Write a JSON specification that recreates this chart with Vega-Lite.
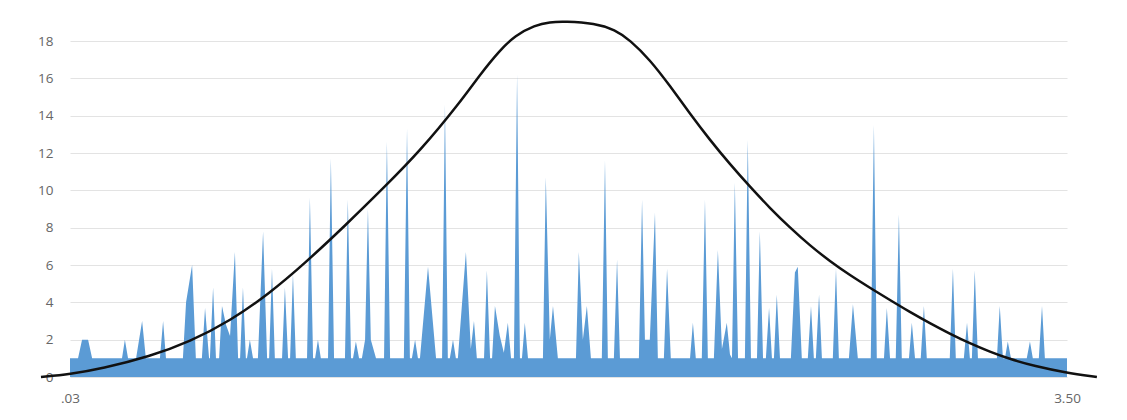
{
  "$schema": "https://vega.github.io/schema/vega-lite/v6.json",
  "width": 997,
  "height": 336,
  "autosize": {"type": "none"},
  "padding": {"left": 70, "top": 41, "right": 60, "bottom": 43},
  "background": "white",
  "config": {
    "view": {"stroke": null},
    "font": "Open Sans",
    "axis": {"labelFont": "Open Sans", "labelFontSize": 13.5, "labelColor": "#666666", "titleFontSize": 0}
  },
  "datasets": {
    "dist": [
      {"x":0.030,"n":1},{"x":0.058,"n":1},{"x":0.072,"n":2},{"x":0.093,"n":2},{"x":0.107,"n":1},
      {"x":0.211,"n":1},{"x":0.221,"n":2},{"x":0.232,"n":1},
      {"x":0.260,"n":1},{"x":0.281,"n":3},{"x":0.294,"n":1},
      {"x":0.343,"n":1},{"x":0.354,"n":3},{"x":0.364,"n":1},
      {"x":0.423,"n":1},{"x":0.434,"n":4},{"x":0.455,"n":6},{"x":0.468,"n":1},
      {"x":0.489,"n":1},{"x":0.500,"n":3.7},{"x":0.514,"n":1},
      {"x":0.517,"n":1},{"x":0.528,"n":4.8},{"x":0.538,"n":1},
      {"x":0.549,"n":1},{"x":0.559,"n":3.8},{"x":0.573,"n":2.8},{"x":0.587,"n":2.2},{"x":0.604,"n":6.7},{"x":0.615,"n":1},
      {"x":0.622,"n":1},{"x":0.632,"n":4.8},{"x":0.642,"n":1},
      {"x":0.646,"n":1},{"x":0.656,"n":2},{"x":0.667,"n":1},
      {"x":0.684,"n":1},{"x":0.702,"n":7.8},{"x":0.716,"n":1},
      {"x":0.723,"n":1},{"x":0.733,"n":5.8},{"x":0.743,"n":1},
      {"x":0.768,"n":1},{"x":0.778,"n":4.8},{"x":0.789,"n":1},
      {"x":0.796,"n":1},{"x":0.806,"n":5.5},{"x":0.816,"n":1},
      {"x":0.855,"n":1},{"x":0.865,"n":9.6},{"x":0.876,"n":1},
      {"x":0.883,"n":1},{"x":0.893,"n":2},{"x":0.903,"n":1},
      {"x":0.928,"n":1},{"x":0.938,"n":11.7},{"x":0.949,"n":1},
      {"x":0.987,"n":1},{"x":0.997,"n":9.5},{"x":1.008,"n":1},
      {"x":1.015,"n":1},{"x":1.025,"n":1.9},{"x":1.036,"n":1},
      {"x":1.046,"n":1},{"x":1.057,"n":2},{"x":1.067,"n":9},{"x":1.077,"n":2},{"x":1.095,"n":1},
      {"x":1.123,"n":1},{"x":1.133,"n":12.6},{"x":1.144,"n":1},
      {"x":1.192,"n":1},{"x":1.203,"n":13.3},{"x":1.213,"n":1},
      {"x":1.220,"n":1},{"x":1.231,"n":2},{"x":1.241,"n":1},
      {"x":1.248,"n":1},{"x":1.276,"n":5.9},{"x":1.304,"n":1},
      {"x":1.325,"n":1},{"x":1.335,"n":14.6},{"x":1.345,"n":1},
      {"x":1.352,"n":1},{"x":1.363,"n":2},{"x":1.373,"n":1},
      {"x":1.380,"n":1},{"x":1.408,"n":6.7},{"x":1.425,"n":1.5},{"x":1.436,"n":3},{"x":1.446,"n":1},
      {"x":1.471,"n":1},{"x":1.481,"n":5.7},{"x":1.492,"n":1},
      {"x":1.499,"n":1},{"x":1.509,"n":3.8},{"x":1.526,"n":2.2},{"x":1.540,"n":1.3},{"x":1.554,"n":2.9},{"x":1.565,"n":1},
      {"x":1.575,"n":1},{"x":1.586,"n":16.2},{"x":1.596,"n":1},
      {"x":1.603,"n":1},{"x":1.613,"n":2.9},{"x":1.624,"n":1},
      {"x":1.676,"n":1},{"x":1.686,"n":10.7},{"x":1.700,"n":2},{"x":1.711,"n":3.8},{"x":1.728,"n":1},
      {"x":1.791,"n":1},{"x":1.801,"n":6.7},{"x":1.815,"n":2},{"x":1.829,"n":3.8},{"x":1.843,"n":1},
      {"x":1.881,"n":1},{"x":1.892,"n":11.6},{"x":1.902,"n":1},
      {"x":1.923,"n":1},{"x":1.934,"n":6.3},{"x":1.944,"n":1},
      {"x":2.010,"n":1},{"x":2.021,"n":9.5},{"x":2.031,"n":2},{"x":2.048,"n":2},{"x":2.066,"n":8.8},{"x":2.076,"n":1},
      {"x":2.097,"n":1},{"x":2.108,"n":5.8},{"x":2.121,"n":1},
      {"x":2.188,"n":1},{"x":2.198,"n":2.9},{"x":2.208,"n":1},
      {"x":2.229,"n":1},{"x":2.240,"n":9.5},{"x":2.250,"n":1},
      {"x":2.271,"n":1},{"x":2.285,"n":6.8},{"x":2.299,"n":1.5},{"x":2.316,"n":2.9},{"x":2.327,"n":1.2},
      {"x":2.334,"n":1},{"x":2.344,"n":10.4},{"x":2.355,"n":1},
      {"x":2.379,"n":1},{"x":2.389,"n":12.7},{"x":2.400,"n":1},
      {"x":2.421,"n":1},{"x":2.431,"n":7.8},{"x":2.442,"n":1},
      {"x":2.452,"n":1},{"x":2.463,"n":3.7},{"x":2.473,"n":1},
      {"x":2.480,"n":1},{"x":2.490,"n":4.4},{"x":2.501,"n":1},
      {"x":2.539,"n":1},{"x":2.553,"n":5.6},{"x":2.563,"n":5.9},{"x":2.577,"n":1},
      {"x":2.598,"n":1},{"x":2.609,"n":3.8},{"x":2.619,"n":1},
      {"x":2.626,"n":1},{"x":2.637,"n":4.4},{"x":2.647,"n":1},
      {"x":2.685,"n":1},{"x":2.696,"n":5.8},{"x":2.706,"n":1},
      {"x":2.741,"n":1},{"x":2.755,"n":3.9},{"x":2.772,"n":1},
      {"x":2.817,"n":1},{"x":2.828,"n":13.5},{"x":2.838,"n":1},
      {"x":2.863,"n":1},{"x":2.873,"n":3.7},{"x":2.884,"n":1},
      {"x":2.904,"n":1},{"x":2.915,"n":8.7},{"x":2.925,"n":1},
      {"x":2.950,"n":1},{"x":2.960,"n":2.9},{"x":2.971,"n":1},
      {"x":2.991,"n":1},{"x":3.002,"n":3.8},{"x":3.012,"n":1},
      {"x":3.092,"n":1},{"x":3.103,"n":5.8},{"x":3.113,"n":1},
      {"x":3.141,"n":1},{"x":3.152,"n":2.9},{"x":3.162,"n":1},
      {"x":3.169,"n":1},{"x":3.179,"n":5.7},{"x":3.190,"n":1},
      {"x":3.256,"n":1},{"x":3.266,"n":3.8},{"x":3.277,"n":1},
      {"x":3.284,"n":1},{"x":3.294,"n":1.9},{"x":3.305,"n":1},
      {"x":3.360,"n":1},{"x":3.371,"n":1.9},{"x":3.381,"n":1},
      {"x":3.402,"n":1},{"x":3.413,"n":3.8},{"x":3.423,"n":1},
      {"x":3.500,"n":1}
    ],
    "curve": [
      {"x":-0.071,"n":0},{"x":0.030,"n":0.15},{"x":0.141,"n":0.45},{"x":0.308,"n":1.1},{"x":0.448,"n":1.9},
      {"x":0.587,"n":3.0},{"x":0.726,"n":4.5},{"x":0.848,"n":6.1},{"x":0.987,"n":8.1},{"x":1.126,"n":10.2},
      {"x":1.248,"n":12.1},{"x":1.387,"n":14.7},{"x":1.457,"n":16.2},{"x":1.526,"n":17.5},{"x":1.579,"n":18.3},
      {"x":1.648,"n":18.85},{"x":1.700,"n":19.02},{"x":1.752,"n":19.05},{"x":1.857,"n":18.95},{"x":1.927,"n":18.6},
      {"x":1.979,"n":18.05},{"x":2.048,"n":17.0},{"x":2.118,"n":15.6},{"x":2.188,"n":14.1},{"x":2.257,"n":12.7},
      {"x":2.327,"n":11.4},{"x":2.396,"n":10.2},{"x":2.466,"n":9.05},{"x":2.536,"n":8.0},{"x":2.605,"n":7.05},
      {"x":2.675,"n":6.2},{"x":2.745,"n":5.45},{"x":2.814,"n":4.78},{"x":2.884,"n":4.12},{"x":2.953,"n":3.48},
      {"x":3.023,"n":2.88},{"x":3.092,"n":2.32},{"x":3.162,"n":1.8},{"x":3.232,"n":1.35},{"x":3.301,"n":0.96},
      {"x":3.388,"n":0.58},{"x":3.493,"n":0.24},{"x":3.604,"n":0}
    ]
  },
  "layer": [
    {
      "data": {"name": "dist"},
      "mark": {"type": "area", "color": "#5b9bd5", "opacity": 1, "interpolate": "linear"},
      "encoding": {
        "x": {
          "field": "x", "type": "quantitative",
          "scale": {"domain": [0.03, 3.5], "nice": false, "zero": false},
          "axis": {
            "title": null, "values": [0.03, 3.5], "grid": false, "domain": false, "ticks": false,
            "labelFlush": false, "labelPadding": 14, "labelOverlap": false,
            "labelExpr": "datum.value < 1 ? '.03' : '3.50'"
          }
        },
        "y": {
          "field": "n", "type": "quantitative",
          "scale": {"domain": [0, 18], "nice": false},
          "axis": {
            "title": null, "values": [0, 2, 4, 6, 8, 10, 12, 14, 16, 18],
            "grid": true, "gridColor": "#e3e3e3", "gridWidth": 1, "labelOverlap": false,
            "domain": false, "ticks": false, "labelPadding": 17
          }
        }
      }
    },
    {
      "data": {"name": "curve"},
      "mark": {"type": "line", "color": "#111111", "strokeWidth": 2.5, "interpolate": "basis", "clip": false},
      "encoding": {
        "x": {
          "field": "x", "type": "quantitative",
          "scale": {"domain": [0.03, 3.5], "nice": false, "zero": false},
          "axis": {
            "title": null, "values": [0.03, 3.5], "grid": false, "domain": false, "ticks": false,
            "labelFlush": false, "labelPadding": 14, "labelOverlap": false,
            "labelExpr": "datum.value < 1 ? '.03' : '3.50'"
          }
        },
        "y": {
          "field": "n", "type": "quantitative",
          "scale": {"domain": [0, 18], "nice": false},
          "axis": {
            "title": null, "values": [0, 2, 4, 6, 8, 10, 12, 14, 16, 18],
            "grid": true, "gridColor": "#e3e3e3", "gridWidth": 1, "labelOverlap": false,
            "domain": false, "ticks": false, "labelPadding": 17
          }
        }
      }
    }
  ]
}
